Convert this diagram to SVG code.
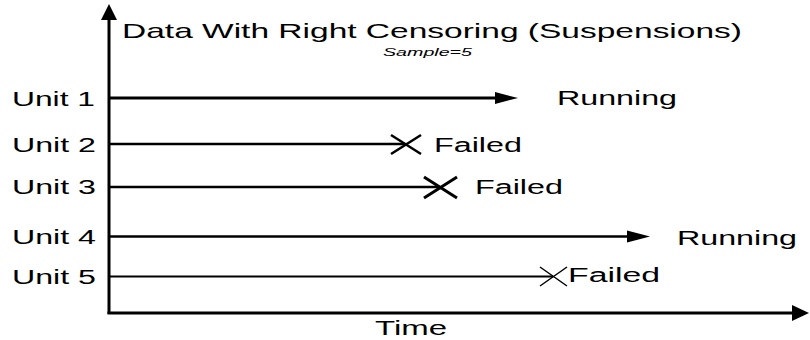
<svg xmlns="http://www.w3.org/2000/svg" width="810" height="340" viewBox="0 0 810 340">
<style>
text{font-family:"Liberation Sans",Arial,sans-serif;fill:#000}
.lbl{font-size:20px}
.ttl{font-size:21px}
.ln{stroke:#000;fill:none}
.x{stroke:#000;fill:none;stroke-linecap:butt}
</style>
<rect width="810" height="340" fill="#fff"/>
<g id="axes">
<line class="ln" x1="109" y1="314" x2="109" y2="20" stroke-width="3"/>
<path d="M101,20 L109,4 L117,20 Z" fill="#000"/>
<line class="ln" x1="107.5" y1="313" x2="793" y2="313" stroke-width="3"/>
<path d="M792,305 L809,313 L792,321 Z" fill="#000"/>
</g>
<g id="title">
<text class="ttl" x="122" y="38" textLength="620" lengthAdjust="spacingAndGlyphs">Data With Right Censoring (Suspensions)</text>
<text x="383" y="56" font-size="11" font-style="italic" textLength="89" lengthAdjust="spacingAndGlyphs">Sample=5</text>
</g>
<g id="connectors">
<line class="ln" x1="109" y1="98" x2="497" y2="98" stroke-width="3"/>
<path d="M495,92 L518,98 L495,104 Z" fill="#000"/>
<line class="ln" x1="109" y1="144" x2="405" y2="144" stroke-width="2.5"/>
<line class="ln" x1="109" y1="187" x2="440" y2="187" stroke-width="2.5"/>
<line class="ln" x1="109" y1="236.5" x2="630" y2="236.5" stroke-width="2.5"/>
<path d="M627,230.5 L650,236.5 L627,242.5 Z" fill="#000"/>
<line class="ln" x1="109" y1="276.5" x2="553" y2="276.5" stroke-width="2"/>
</g>
<g id="unit1">
<text class="lbl" x="12" y="106" textLength="83" lengthAdjust="spacingAndGlyphs">Unit 1</text>
<text class="ttl" x="557" y="105" textLength="120" lengthAdjust="spacingAndGlyphs">Running</text>
</g>
<g id="unit2">
<text class="lbl" x="12" y="152" textLength="84" lengthAdjust="spacingAndGlyphs">Unit 2</text>
<path class="x" d="M391,135 L421,154 M391,154 L421,135" stroke-width="2.5"/>
<text class="lbl" x="434" y="152" textLength="88" lengthAdjust="spacingAndGlyphs">Failed</text>
</g>
<g id="unit3">
<text class="lbl" x="12" y="194" textLength="84" lengthAdjust="spacingAndGlyphs">Unit 3</text>
<path class="x" d="M424,177 L457,198 M424,198 L457,177" stroke-width="3"/>
<text class="lbl" x="475" y="194" textLength="88" lengthAdjust="spacingAndGlyphs">Failed</text>
</g>
<g id="unit4">
<text class="lbl" x="12" y="244" textLength="84" lengthAdjust="spacingAndGlyphs">Unit 4</text>
<text class="ttl" x="677" y="245" textLength="120" lengthAdjust="spacingAndGlyphs">Running</text>
</g>
<g id="unit5">
<text class="lbl" x="12" y="284" textLength="84" lengthAdjust="spacingAndGlyphs">Unit 5</text>
<path class="x" d="M540,267 L567,286 M540,286 L567,267" stroke-width="1.5"/>
<text class="lbl" x="568" y="282" textLength="92" lengthAdjust="spacingAndGlyphs">Failed</text>
</g>
<g id="xlabel">
<text class="ttl" x="375" y="335" textLength="72" lengthAdjust="spacingAndGlyphs">Time</text>
</g>
</svg>
